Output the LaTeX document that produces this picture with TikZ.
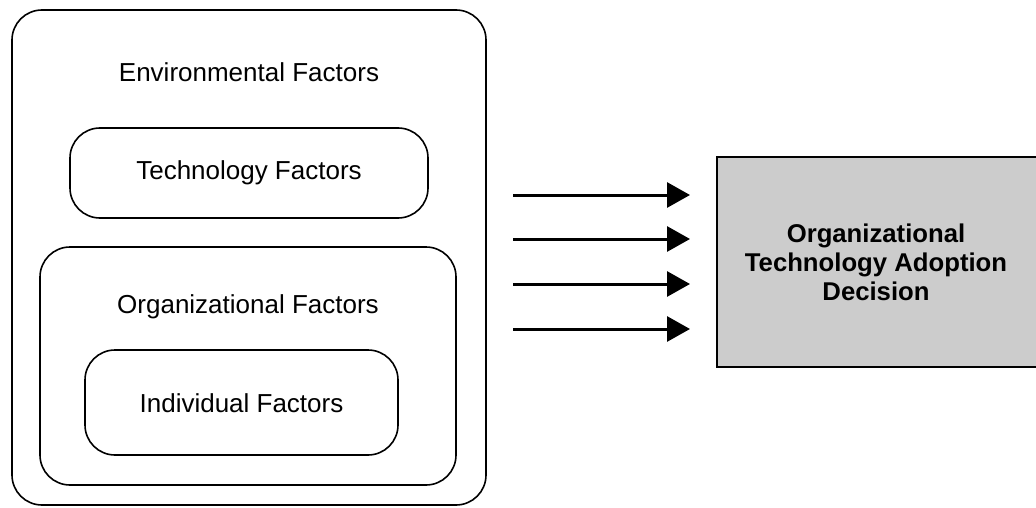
\documentclass[tikz,border=0pt]{standalone}
\usepackage{fontspec}
\setmainfont{Liberation Sans}
\usetikzlibrary{arrows.meta}
\begin{document}
\begin{tikzpicture}[x=1pt,y=-1pt,
  rbox/.style={draw, line width=1.6pt, rounded corners=30pt, inner sep=0pt},
  lbl/.style={font=\fontsize{26}{30}\selectfont, inner sep=0pt},
  flow/.style={line width=3pt, -{Triangle[length=23pt,width=25pt]}}]
\useasboundingbox (0,0) rectangle (1036,508);
\node[rbox, minimum width=474pt, minimum height=495pt] (env) at (249,257.5) {};
\node[lbl] (envt) at (249,72) {Environmental Factors};
\node[rbox, minimum width=358pt, minimum height=90pt] (tech) at (249,173) {};
\node[lbl] (techt) at (249,173) {Technology Factors};
\node[rbox, minimum width=416pt, minimum height=238pt] (org) at (248,366) {};
\node[lbl] (orgt) at (248,307) {Organizational Factors};
\node[rbox, minimum width=313pt, minimum height=105pt] (ind) at (241.5,402.5) {};
\node[lbl] (indt) at (241.5,403) {Individual Factors};
\node[draw, line width=1.6pt, fill={rgb,255:red,204;green,204;blue,204}, minimum width=325pt, minimum height=210pt, inner sep=0pt] (dec) at (879.5,262) {};
\node[font=\bfseries\fontsize{25.7}{29}\selectfont, align=center, inner sep=0pt] (dect) at (876,262) {Organizational\\Technology Adoption\\Decision};
\foreach \i/\y in {1/195,2/239,3/284,4/329}{
  \coordinate (s\i) at (513,\y);
  \coordinate (e\i) at (690,\y);
  \draw[flow] (s\i) -- (e\i);
}
\end{tikzpicture}
\end{document}
